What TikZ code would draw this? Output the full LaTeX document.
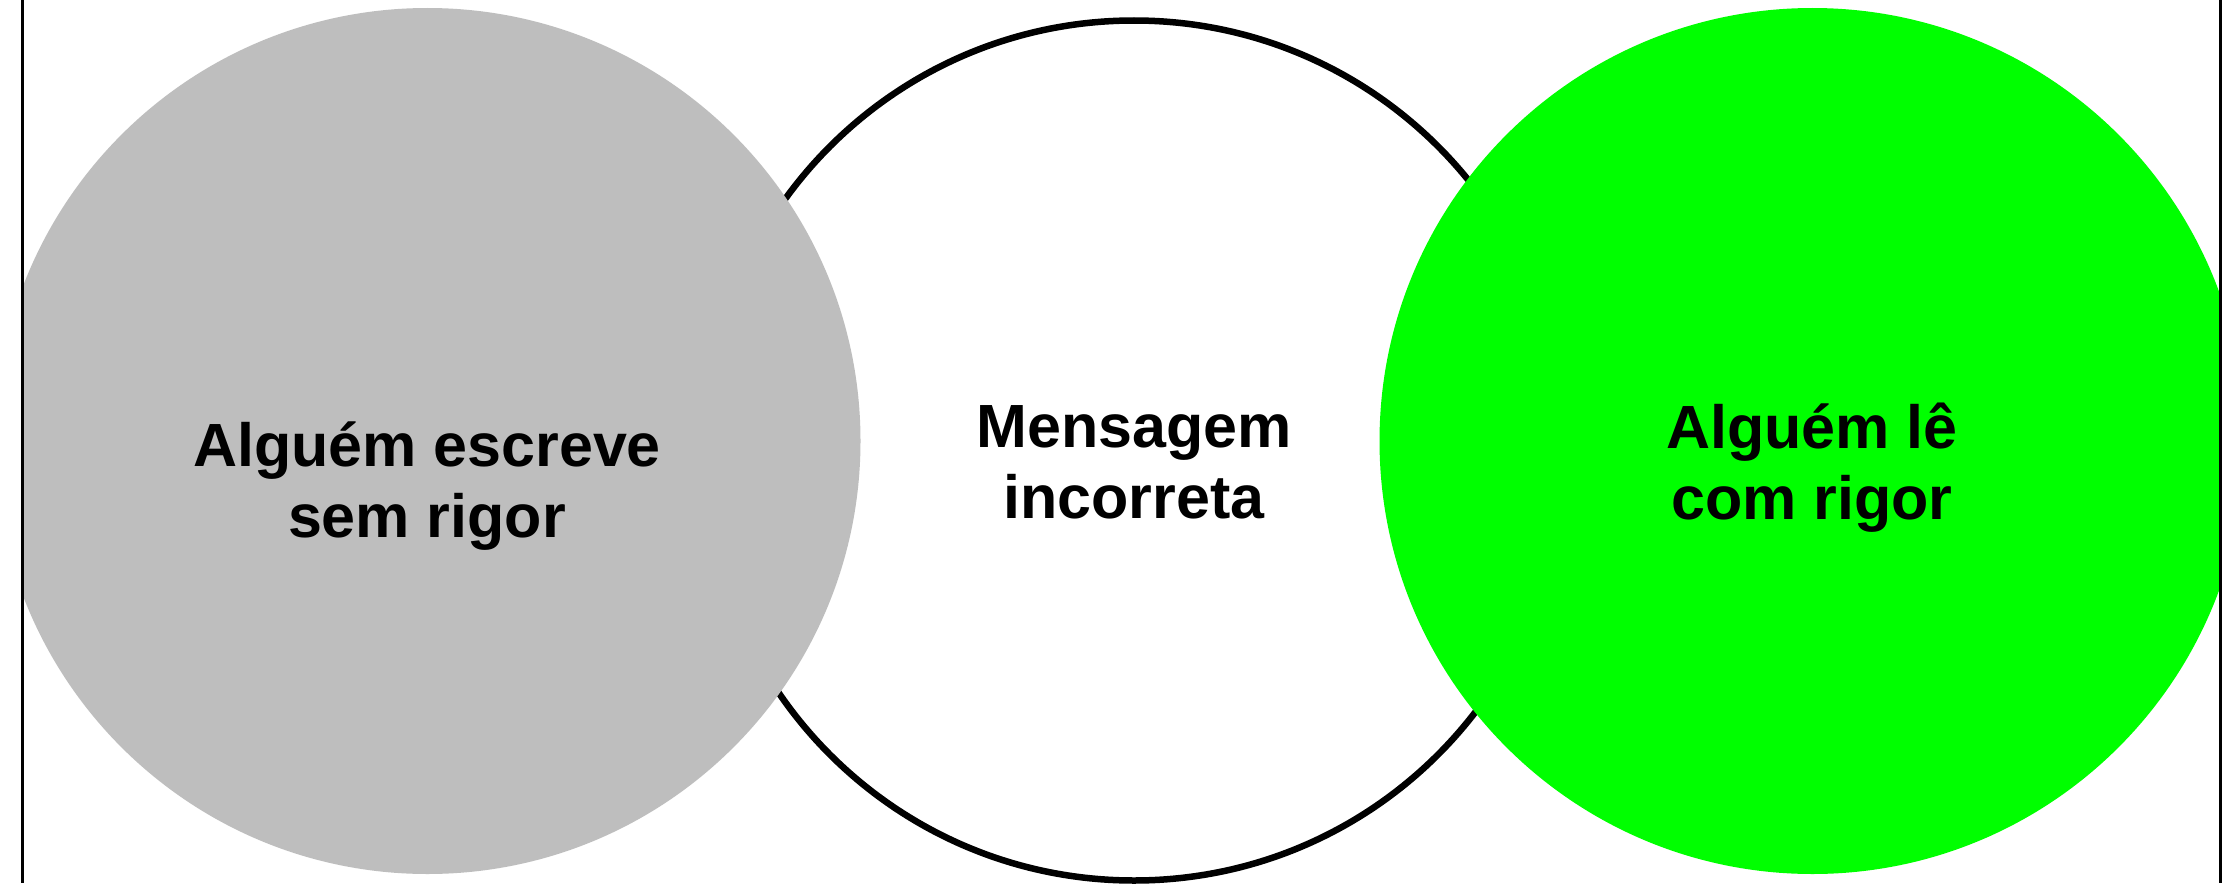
\documentclass[tikz,border=0pt]{standalone}
\usepackage{fontspec}
\setmainfont{Liberation Sans}
\definecolor{grayfill}{RGB}{190,190,190}
\definecolor{greenfill}{RGB}{0,255,0}
\tikzset{
  lbl/.style={align=center, anchor=base, inner sep=0pt, font=\bfseries\fontsize{61}{71}\selectfont},
  frameline/.style={line width=2.7pt, black},
}
\begin{document}
\begin{tikzpicture}[x=1pt,y=-1pt]
\useasboundingbox (0,0) rectangle (2223,883);
\fill[white] (0,0) rectangle (2223,883);
% middle circle
\draw[line width=6.5pt] (1134,450.5) circle[radius=430];
% outer circles clipped to frame
\begin{scope}
\clip (22.8,0) rectangle (2220.5,883);
\fill[grayfill] (427.5,441) circle[radius=433];
\fill[greenfill] (1812.5,441) circle[radius=433];
\end{scope}
\coordinate (ltop) at (22.8,0);
\coordinate (lbot) at (22.8,883);
\coordinate (rtop) at (2220.5,0);
\coordinate (rbot) at (2220.5,883);
\draw[frameline] (ltop) -- (lbot);
\draw[frameline] (rtop) -- (rbot);
\node[lbl] (t1) at (427,537) {Alguém escreve\\sem rigor};
\node[lbl] (t2) at (1134,518) {Mensagem\\incorreta};
\node[lbl] (t3) at (1812,519) {Alguém lê\\com rigor};
\end{tikzpicture}
\end{document}
